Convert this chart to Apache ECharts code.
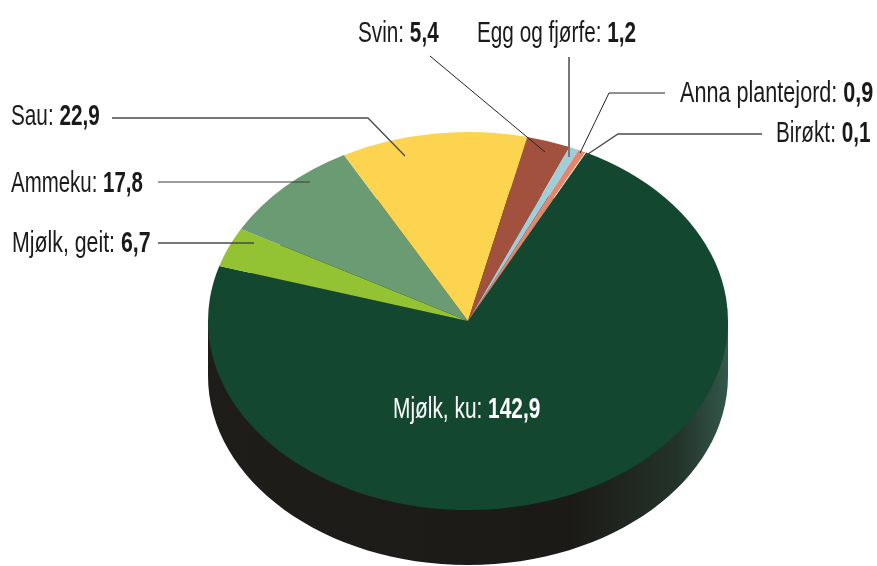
<!DOCTYPE html>
<html>
<head>
<meta charset="utf-8">
<title>Pie</title>
<script src="https://cdn.jsdelivr.net/npm/echarts@6/dist/echarts.min.js"></script>
<style>
  html, body { margin: 0; padding: 0; background: #fff; }
  #chart { width: 877px; height: 566px; }
</style>
</head>
<body>
<div id="chart"></div>
<script>
// clockwise from the Mjølk, ku slice
const categories = ['Mjølk, ku', 'Mjølk, geit', 'Ammeku', 'Sau', 'Svin', 'Egg og fjørfe', 'Anna plantejord', 'Birøkt'];
const values = [142.9, 6.7, 17.8, 22.9, 5.4, 1.2, 0.9, 0.1];
const colors = ['#14472f', '#93c332', '#6a9b72', '#fdd44f', '#a2513e', '#a0ced8', '#e5856c', '#f3d9c4'];

// label position (left x, middle y), horizontal squeeze and leader line for each category
const labelPos = [[393, 410], [12, 244], [11, 184], [11, 117], [358, 34], [477, 34], [680, 94], [776, 134]];
const labelSquash = [0.72, 0.735, 0.705, 0.715, 0.715, 0.715, 0.745, 0.715];
const leaders = [
  null,
  { pts: [[158, 243], [254, 243]], color: '#4a4a4a', width: 1.5 },
  { pts: [[158, 182], [310, 182]], color: '#3a3a3a', width: 1.2 },
  { pts: [[112, 118], [368, 118], [405, 156]], color: '#4a4a4a', width: 1.3 },
  { pts: [[430, 56], [545, 152]], color: '#222', width: 1 },
  { pts: [[569, 57], [569, 157]], color: '#777', width: 2 },
  { pts: [[665, 93], [609, 93], [580, 153]], color: '#222', width: 1 },
  { pts: [[762, 134], [618, 134], [585, 156]], color: '#4a4a4a', width: 1.3 }
];

const cx = 468, cy = 321, rx = 260, ry = 189, depth = 55;
const startDeg = 27;
const labelFont = '"Liberation Sans", sans-serif';
const labelSize = 29;
const total = values.reduce((a, b) => a + b, 0);

const sideFill = new echarts.graphic.LinearGradient(0, 0, 1, 0, [
  { offset: 0, color: '#1f1d19' },
  { offset: 0.7, color: '#1c1a16' },
  { offset: 0.9, color: '#233229' },
  { offset: 1, color: '#33574a' }
]);

const renderSide = () => ({
  type: 'group',
  children: [
    { type: 'rect', shape: { x: cx - rx, y: cy, width: rx * 2, height: depth }, style: { fill: sideFill } },
    { type: 'ellipse', shape: { cx: cx, cy: cy + depth, rx: rx, ry: ry }, style: { fill: sideFill } }
  ]
});

const renderSlice = (params, api) => {
  const i = params.dataIndex;
  let before = 0;
  for (let k = 0; k < i; k++) before += values[k];
  const a0 = (startDeg - 90 + before / total * 360) * Math.PI / 180;
  const a1 = a0 + api.value(1) / total * Math.PI * 2;
  return {
    type: 'sector',
    x: cx,
    y: cy,
    scaleY: ry / rx,
    shape: { cx: 0, cy: 0, r: rx, r0: 0, startAngle: a0, endAngle: a1, clockwise: true },
    style: { fill: colors[i] }
  };
};

const renderLabel = (params, api) => {
  const i = params.dataIndex;
  const valueText = String(api.value(1)).replace('.', ',');
  const textColor = i === 0 ? '#fff' : '#1a1a1a';
  const children = [{
    type: 'text',
    x: labelPos[i][0],
    y: labelPos[i][1],
    scaleX: labelSquash[i],
    style: {
      text: '{n|' + categories[i] + ': }{v|' + valueText + '}',
      verticalAlign: 'middle',
      rich: {
        n: { fontFamily: labelFont, fontSize: labelSize, fill: textColor },
        v: { fontFamily: labelFont, fontSize: labelSize, fontWeight: 'bold', fill: textColor }
      }
    }
  }];
  if (leaders[i]) {
    children.push({
      type: 'polyline',
      shape: { points: leaders[i].pts },
      style: { stroke: leaders[i].color, lineWidth: leaders[i].width, fill: null }
    });
  }
  return { type: 'group', children: children };
};

const seriesData = categories.map((name, i) => ({ name: name, value: [i, values[i]] }));

const chart = echarts.init(document.getElementById('chart'), null, { renderer: 'canvas' });
chart.setOption({
  animation: false,
  backgroundColor: '#fff',
  series: [
    { type: 'custom', coordinateSystem: 'none', z: 1, silent: true, data: [0], renderItem: renderSide },
    { type: 'custom', coordinateSystem: 'none', z: 2, silent: true, data: seriesData, renderItem: renderSlice },
    { type: 'custom', coordinateSystem: 'none', z: 3, silent: true, data: seriesData, renderItem: renderLabel }
  ]
});
</script>
</body>
</html>
